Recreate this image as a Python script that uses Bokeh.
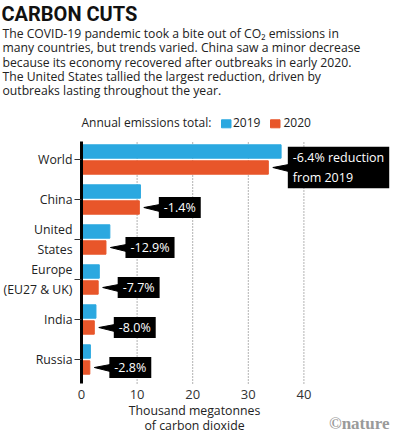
from bokeh.plotting import figure
from bokeh.models import FixedTicker, Label, ColumnDataSource, LinearAxis, Range1d
from bokeh.embed import file_html
from bokeh.resources import INLINE

# ---------------- data ----------------
categories = ["World", "China", "United\nStates", "Europe\n(EU27 & UK)", "India", "Russia"]
emissions_2019 = [35.9, 10.6, 5.1, 3.2, 2.6, 1.6]
emissions_2020 = [33.6, 10.4, 4.4, 3.0, 2.3, 1.5]
change_labels = ["-6.4% reduction\nfrom 2019", "-1.4%", "-12.9%", "-7.7%", "-8.0%", "-2.8%"]
x_ticks = [0, 10, 20, 30, 40]
series_names = ["2019", "2020"]

title_text = "CARBON CUTS"
body_lines = [
    "The COVID-19 pandemic took a bite out of CO\u2082 emissions in",
    "many countries, but trends varied. China saw a minor decrease",
    "because its economy recovered after outbreaks in early 2020.",
    "The United States tallied the largest reduction, driven by",
    "outbreaks lasting throughout the year.",
]
legend_title = "Annual emissions total:"
x_title_lines = ["Thousand megatonnes", "of carbon dioxide"]

# ---------------- style / layout (pixels on the canvas) ----------------
BLUE = "#2ba8e0"
ORANGE = "#e8562a"
TXT = "#222222"
FONT = "Open Sans"
W, H = 393, 433
AX_X = 81           # canvas x of value 0
PX_PER_UNIT = 5.56
TOP_CAT_Y = 159     # canvas y of first category
PX_PER_CAT = 40
CHART_TOP, CHART_BOT = 141, 383
MID = {"Open Sans": 0.388, "Roboto": 0.3415, "Liberation Serif": 0.3375}
PAD_X, PAD_Y = 5, 2


def cx(px):
    return (px - AX_X) / PX_PER_UNIT


def cy(py):
    return (len(categories) - 1) - (py - TOP_CAT_Y) / PX_PER_CAT


def text(fig, x_px, base_px, txt, size, font=FONT, **kw):
    """Place a text with its alphabetic baseline at base_px (canvas pixels)."""
    centre = base_px - MID[font] * size
    fig.add_layout(Label(x=cx(x_px), y=cy(centre), text=txt, text_font=font,
                         text_font_size=f"{size}px", text_baseline="middle", **kw))


Y_LO, Y_HI = cy(CHART_BOT), cy(CHART_TOP)

p = figure(width=W, height=H, x_range=Range1d(cx(0), cx(W)), y_range=Range1d(cy(H), cy(0)),
           x_axis_location=None, y_axis_location=None, title=None,
           output_backend="svg", toolbar_location=None, min_border=0)
p.outline_line_color = None
p.xgrid.visible = False
p.ygrid.visible = False

n = len(categories)
pos = [n - 1 - i for i in range(n)]
OFF = 8 / PX_PER_CAT
BAR_H = 13.4 / PX_PER_CAT

# dotted grid lines at the x ticks, limited to the chart area
p.segment(x0=x_ticks[1:], x1=x_ticks[1:], y0=Y_LO, y1=Y_HI,
          line_color="#666666", line_dash="1 2", line_width=1)

src = ColumnDataSource(dict(
    y19=[q + OFF for q in pos], y20=[q - OFF for q in pos],
    v19=emissions_2019, v20=emissions_2020))
p.hbar(y="y19", left=0, right="v19", height=BAR_H, color=BLUE, source=src)
p.hbar(y="y20", left=0, right="v20", height=BAR_H, color=ORANGE, source=src)

# y axis (categories, at x = 0)
yax = LinearAxis(fixed_location=0, bounds=(Y_LO, Y_HI), ticker=FixedTicker(ticks=pos))
yax.major_label_overrides = {pos[i]: categories[i] for i in range(n)}
yax.axis_line_color = "black"
yax.axis_line_width = 3
yax.major_tick_out = 7
yax.major_tick_in = 0
yax.major_tick_line_color = "#333333"
yax.minor_tick_line_color = None
yax.major_label_standoff = 2
yax.major_label_text_font = FONT
yax.major_label_text_font_size = "12.3px"
yax.major_label_text_color = TXT
p.add_layout(yax, "left")

# x axis (values, along the bottom of the chart)
xax = LinearAxis(fixed_location=Y_LO, ticker=FixedTicker(ticks=x_ticks))
xax.axis_line_color = None
xax.major_tick_line_color = None
xax.minor_tick_line_color = None
xax.major_label_standoff = 0
xax.major_label_text_font = FONT
xax.major_label_text_font_size = "13px"
xax.major_label_text_color = "#333333"
p.add_layout(xax, "below")

# callouts with the change from 2019
xs, ys = [], []
for i in range(n):
    yc = pos[i] - OFF
    tip = emissions_2020[i] + 4.5 / PX_PER_UNIT
    bl = tip + 15 / PX_PER_UNIT
    xs.append([tip, bl + 1 / PX_PER_UNIT, bl + 1 / PX_PER_UNIT])
    ys.append([yc, yc + 3 / PX_PER_CAT, yc - 4 / PX_PER_CAT])
    p.add_layout(Label(x=bl, y=yc, text=change_labels[i],
                       text_color="white", text_font=FONT, text_font_size="12.5px",
                       text_align="left", text_baseline="middle",
                       background_fill_color="black",
                       padding=dict(top=PAD_Y, right=PAD_X, bottom=PAD_Y, left=PAD_X)))
p.patches(xs, ys, color="black")

# header
text(p, 1, 20, title_text, 20, font="Roboto", text_font_style="bold", text_color="#111111")
for k, line in enumerate(body_lines):
    text(p, 2, 37.6 + 14.35 * k, line, 12.2, text_color=TXT)

# legend
text(p, 81, 127, legend_title, 12, text_color=TXT)
for name, col, sq, lx in zip(series_names, [BLUE, ORANGE], [221, 270], [232.5, 283]):
    p.quad(left=cx(sq), right=cx(sq + 9.5), top=cy(119.3), bottom=cy(127.3), color=col)
    text(p, lx, 127, name, 12, text_color=TXT)

# x-axis title
for k, line in enumerate(x_title_lines):
    text(p, 194, 415 + 14.5 * k, line, 12.3, text_color=TXT, text_align="center")

# credit
text(p, 389, 429, "\u00a9nature", 17, font="Liberation Serif", text_font_style="bold",
     text_color="#9a9a9a", text_align="right")

open("out.html", "w").write(file_html(p, INLINE))
